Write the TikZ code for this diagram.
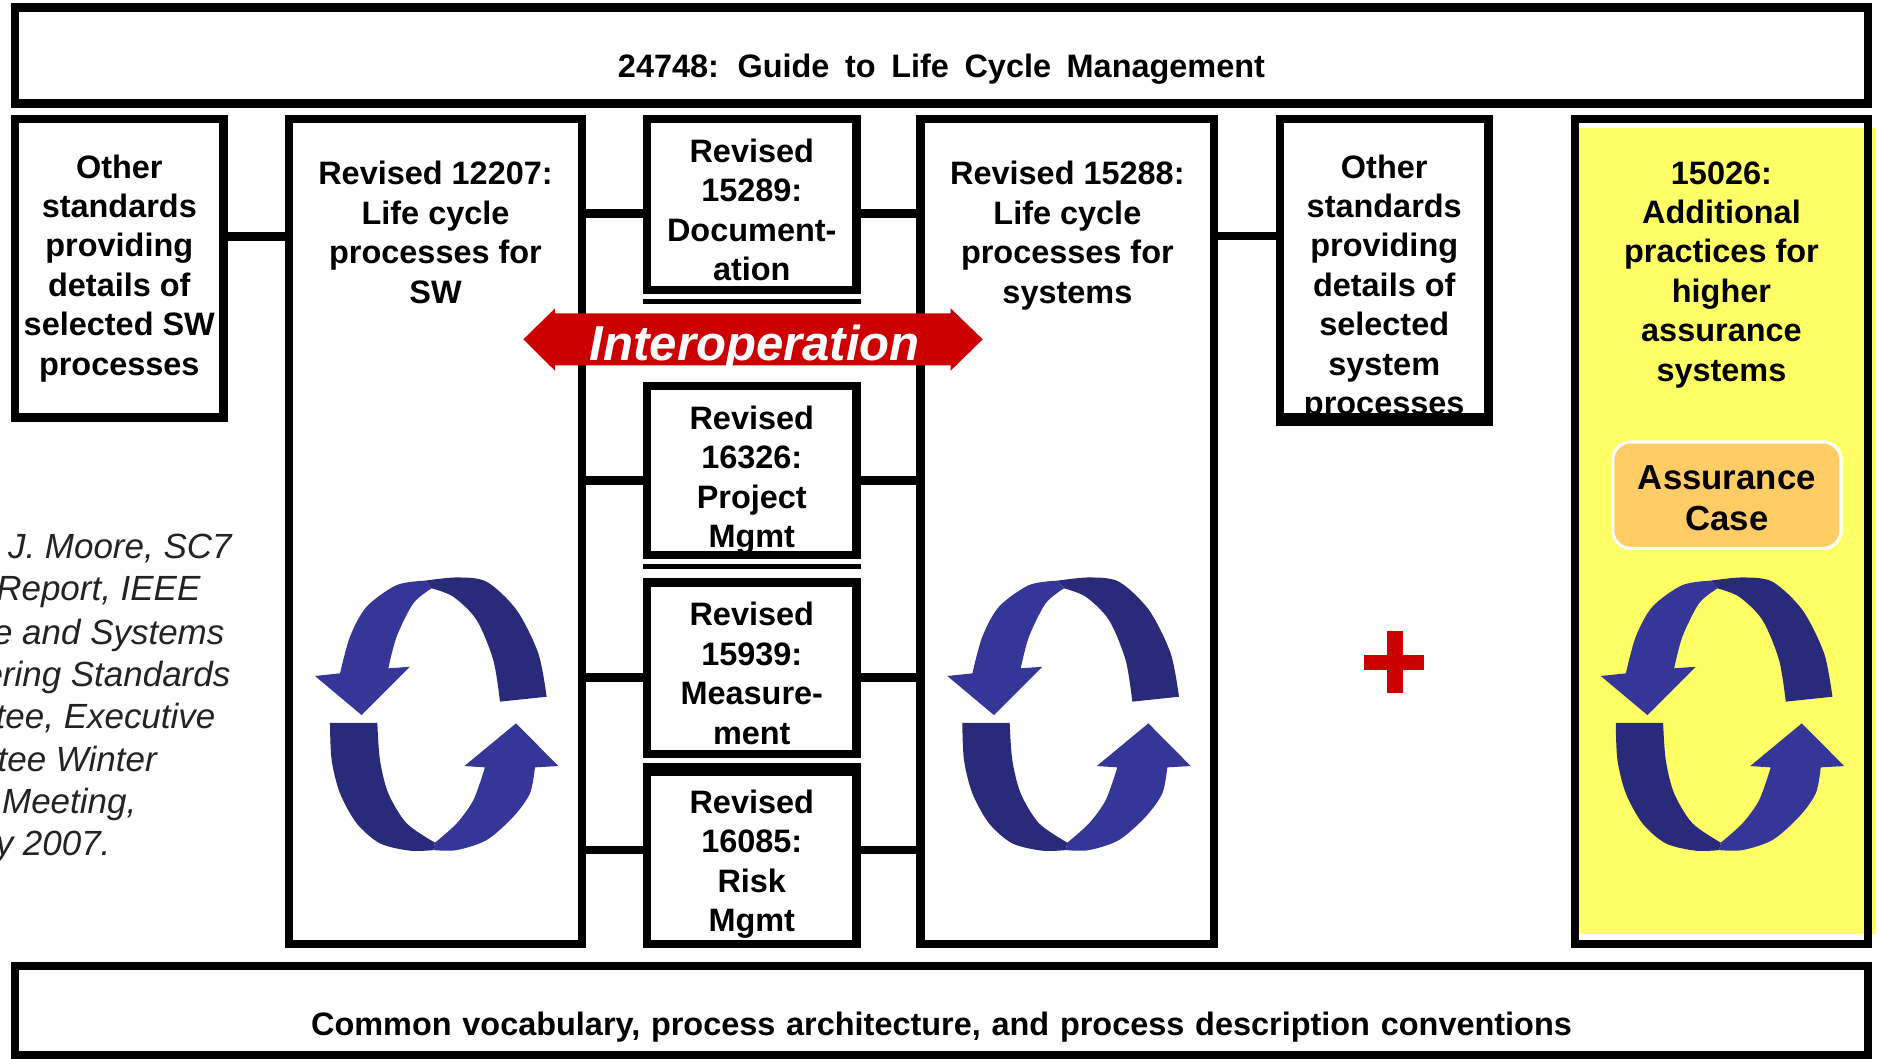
\documentclass[tikz,border=0pt]{standalone}
\usepackage{fontspec}
\setmainfont{Liberation Sans}
\usepackage{tikz}
\usetikzlibrary{positioning}
\definecolor{interred}{RGB}{204,0,0}
\definecolor{hiyellow}{RGB}{255,255,102}
\definecolor{caseorange}{RGB}{255,204,102}
\definecolor{looplight}{RGB}{54,54,152}
\definecolor{loopdark}{RGB}{42,42,122}
\definecolor{notegray}{RGB}{35,35,35}

\begin{document}
\begin{tikzpicture}[x=0.02cm, y=-0.02cm,
    box/.style={draw, line width=4pt, inner sep=0pt},
    lbl/.style={font=\bfseries\fontsize{15.4}{18.7}\selectfont, align=center, inner sep=0pt},
    conn/.style={line width=4pt},
    shadowline/.style={line width=2.4pt},
    note/.style={font=\itshape\fontsize{16.6}{19.9}\selectfont, text=notegray, inner sep=0pt, anchor=north east},
    cyc/.pic={
        % upper band
        \fill[loopdark] plot[smooth] coordinates {(90.9,-14.9) (84,-51) (65.9,-87.2) (40.9,-110.8) (15.9,-114.4) (-10.5,-111.7)}
            -- plot[smooth] coordinates {(-5,-105.3) (13.1,-98.3) (32.5,-78.9) (46.4,-45.5) (52,-10.8)} -- cycle;
        \fill[looplight] plot[smooth] coordinates {(-10.5,-111.7) (-34.2,-108) (-59.2,-90) (-73.1,-65) (-81.4,-34.4)}
            -- (-102.3,-32.2) -- (-63.4,0.4) -- (-23.1,-39.9)
            -- plot[smooth] coordinates {(-41.1,-38.6) (-34.2,-65) (-20.3,-92.8) (-5,-105.3)} -- cycle;
        % lower band
        \fill[loopdark] plot[smooth] coordinates {(-89.8,6.8) (-88.4,37.9) (-81.4,65.7) (-67.5,90.7) (-48.1,107.4) (-23.1,113.5) (-3.6,113)}
            -- plot[smooth] coordinates {(-2.2,106.8) (-25.8,90.7) (-41.1,65.7) (-48.1,37.9) (-50.3,6.8)} -- cycle;
        \fill[looplight] plot[smooth] coordinates {(-3.6,113) (15.9,113) (40.9,104.6) (63.1,85.2) (77,65.7) (81.2,44)}
            -- (100.7,42.9) -- (65.4,7.3) -- (22.3,42.9)
            -- plot[smooth] coordinates {(39.5,44) (29.8,71.3) (15.9,90.7) (-2.2,106.8)} -- cycle;
    }]
    \useasboundingbox (0,0) rectangle (1568,883);

    % Yellow background of 15026
    \fill[hiyellow] (1313.5,107) rectangle (1565,779);

    % Boxes
    \node[box, minimum width=30.91cm, minimum height=1.6cm] (guide) at (785.25,46.3) {};
    \node[box, minimum width=3.48cm, minimum height=4.978cm] (othersw) at (99.5,223.75) {};
    \node[box, minimum width=4.89cm, minimum height=13.76cm] (sw) at (363.25,443.3) {};
    \node[box, minimum width=3.5cm, minimum height=2.854cm] (doc) at (627,170.65) {};
    \node[box, minimum width=3.5cm, minimum height=2.822cm] (pm) at (627,392.45) {};
    \node[box, minimum width=3.5cm, minimum height=2.866cm] (meas) at (627,557.35) {};
    \node[box, minimum width=3.5cm, minimum height=2.876cm] (risk) at (627,715.4) {};
    \node[box, minimum width=4.9cm, minimum height=13.76cm] (sys) at (890.25,443.3) {};
    \node[box, minimum width=3.48cm, minimum height=4.978cm] (othersys) at (1154.5,223.75) {};
    \node[box, minimum width=4.89cm, minimum height=13.76cm] (hi) at (1435.75,443.3) {};
    \node[box, minimum width=30.91cm, minimum height=1.5cm] (vocab) at (785.25,843) {};
    \node[draw=white, line width=1.5pt, fill=caseorange, rounded corners=0.3cm,
          minimum width=3.81cm, minimum height=1.776cm, align=center, inner sep=0pt,
          font=\bfseries\fontsize{16.5}{19.4}\selectfont] (case) at (1440.25,413) {};
    \node[font=\bfseries\fontsize{16.5}{19.4}\selectfont, align=center, inner sep=0pt] (casetext) at (1440.25,415.5) {Assurance\\Case};

    % Labels
    \node[lbl, below=0.834cm of guide.north] (guidetext) {\spaceskip=7.4pt 24748: Guide to Life Cycle Management};
    \node[lbl, below=0.656cm of othersw.north] (otherswtext) {Other\\standards\\providing\\details of\\selected SW\\processes};
    \node[lbl, below=0.768cm of sw.north] (swtext) {Revised 12207:\\Life cycle\\processes for\\SW};
    \node[lbl, below=0.394cm of doc.north] (doctext) {Revised\\15289:\\Document-\\ation};
    \node[lbl, below=0.396cm of pm.north] (pmtext) {Revised\\16326:\\Project\\Mgmt};
    \node[lbl, below=0.396cm of meas.north] (meastext) {Revised\\15939:\\Measure-\\ment};
    \node[lbl, below=0.368cm of risk.north] (risktext) {Revised\\16085:\\Risk\\Mgmt};
    \node[lbl, below=0.768cm of sys.north] (systext) {Revised 15288:\\Life cycle\\processes for\\systems};
    \node[lbl, below=0.656cm of othersys.north] (othersystext) {Other\\standards\\providing\\details of\\selected\\system\\processes};
    \node[lbl, below=0.768cm of hi.north] (hitext) {15026:\\Additional\\practices for\\higher\\assurance\\systems};
    \node[lbl, below=0.838cm of vocab.north] (vocabtext) {\spaceskip=5.1pt Common vocabulary, process architecture, and process description conventions};
    \draw[conn] (othersys.south west) -- (othersys.south east); % border over the last line

    % Connectors
    \draw[conn] (othersw.east |- 0,197.3) -- (sw.west |- 0,197.3);
    \draw[conn] (sw.east |- 0,178) -- (doc.west |- 0,178);
    \draw[conn] (doc.east |- 0,178) -- (sys.west |- 0,178);
    \draw[conn] (sys.east |- 0,197) -- (othersys.west |- 0,197);
    \draw[conn] (sw.east |- 0,400.6) -- (pm.west |- 0,400.6);
    \draw[conn] (pm.east |- 0,400.6) -- (sys.west |- 0,400.6);
    \draw[conn] (sw.east |- 0,565) -- (meas.west |- 0,565);
    \draw[conn] (meas.east |- 0,565) -- (sys.west |- 0,565);
    \draw[conn] (sw.east |- 0,709) -- (risk.west |- 0,709);
    \draw[conn] (risk.east |- 0,709) -- (sys.west |- 0,709);

    % Second line under the small boxes
    \draw[shadowline] ([yshift=-0.124cm]doc.south west) -- ([yshift=-0.124cm]doc.south east);
    \draw[shadowline] ([yshift=-0.124cm]pm.south west) -- ([yshift=-0.124cm]pm.south east);
    \draw[shadowline] ([yshift=-0.124cm]meas.south west) -- ([yshift=-0.124cm]meas.south east);

    % Interoperation arrow
    \fill[interred] (436.5,283) -- (462.9,257.2) -- (462.9,261.3) -- (792.9,261.3) -- (792.9,257.2)
        -- (819.6,283) -- (792.9,309.2) -- (792.9,304.7) -- (462.9,304.7) -- (462.9,309.2) -- cycle;
    \node[font=\bfseries\itshape\fontsize{23.3}{28}\selectfont, text=white, inner sep=0pt] (interop) at (629.5,290) {Interoperation};

    % Cycle arrows
    \pic (cycsw) at (365,596) {cyc};
    \pic (cycsys) at (892.4,596) {cyc};
    \pic (cychi) at (1437.4,596) {cyc};

    % Plus
    \fill[interred] (1156.5,526.6) rectangle (1170,577.8);
    \fill[interred] (1137.5,546.3) rectangle (1188,559);

    % Source note (cut at the left edge)
    \foreach \t/\x/\y [count=\i] in {{J. Moore, SC7}/193.5/445.3, {Report, IEEE}/167.5/480.6,
        {e and Systems}/187.5/515.9, {ering Standards}/192.5/551.2, {tee, Executive}/180/586.5,
        {tee Winter}/131/621.8, {Meeting,}/114/657.1, {y 2007.}/92.5/692.4}
        \node[note] (note\i) at (\x,\y) {\t};
\end{tikzpicture}
\end{document}
